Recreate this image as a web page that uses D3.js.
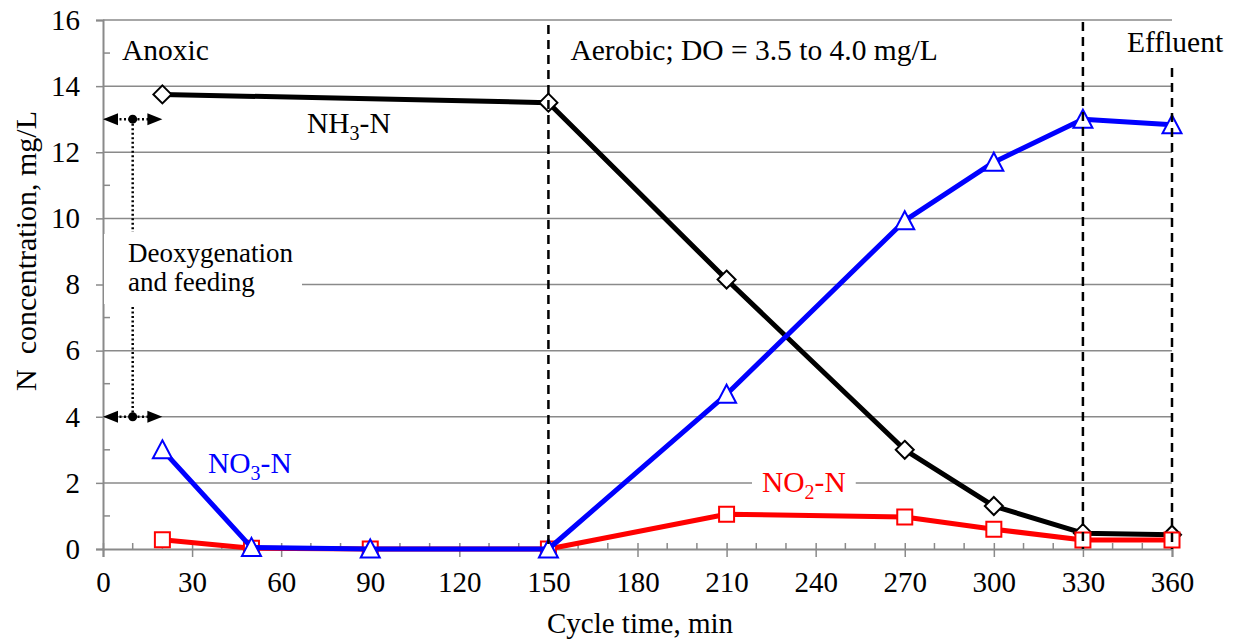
<!DOCTYPE html>
<html lang="en">
<head>
  <meta charset="utf-8">
  <title>N concentration vs cycle time</title>
  <script src="https://d3js.org/d3.v7.min.js"></script>
  <style>
    body { margin: 0; background: #fff; }
  </style>
</head>
<body>
  <div id="chart"></div>
  <script>

    // data
    var times = [20, 50, 90, 150, 210, 270, 300, 330, 360];
    var nh3Times = [20, 150, 210, 270, 300, 330, 360];
    var nh3 = [13.75, 13.5, 8.15, 3.0, 1.3, 0.48, 0.43];
    var no3 = [3.0, 0.05, 0.0, 0.0, 4.68, 9.93, 11.7, 13.0, 12.83];
    var no2 = [0.28, 0.02, 0.0, 0.0, 1.05, 0.97, 0.6, 0.27, 0.27];
    var xTicks = [0, 30, 60, 90, 120, 150, 180, 210, 240, 270, 300, 330, 360];
    var yTicks = [0, 2, 4, 6, 8, 10, 12, 14, 16];
    var phaseLines = [150, 330, 360];

    var W = 1234, H = 641;
    var margin = { top: 20, right: 62, bottom: 92, left: 103 };
    var w = W - margin.left - margin.right;
    var h = H - margin.top - margin.bottom;
    var grey = '#8a8a8a';
    var serif = "'Liberation Serif', 'Times New Roman', serif";

    var svg = d3.select('#chart').append('svg')
      .attr('width', W).attr('height', H);

    var x = d3.scaleLinear().domain([0, 360]).range([0, w]);
    var y = d3.scaleLinear().domain([0, 16]).range([h, 0]);

    var g = svg.append('g').attr('transform', 'translate(' + margin.left + ',' + margin.top + ')');

    // horizontal gridlines
    g.selectAll('.grid').data(yTicks.filter(function(d) { return d > 0; }))
      .enter().append('line')
      .attr('x1', 0).attr('x2', w)
      .attr('y1', function(d) { return y(d); })
      .attr('y2', function(d) { return y(d); })
      .attr('stroke', grey).attr('stroke-width', 1.5);

    // y axis
    var yAxis = d3.axisLeft(y).tickValues(yTicks).tickSize(7).tickPadding(16);
    var ya = g.append('g').call(yAxis);
    ya.select('.domain').attr('stroke', grey).attr('stroke-width', 2);
    ya.selectAll('.tick line').attr('stroke', grey).attr('stroke-width', 1.5);
    ya.selectAll('.tick text').attr('fill', '#000').style('font-size', '29px');

    g.selectAll('.yminor').data(d3.range(1, 16, 2))
      .enter().append('line')
      .attr('x1', 0).attr('x2', 7)
      .attr('y1', function(d) { return y(d); })
      .attr('y2', function(d) { return y(d); })
      .attr('stroke', grey).attr('stroke-width', 1.5);

    // x axis
    var xAxis = d3.axisBottom(x).tickValues(xTicks).tickSize(8).tickPadding(14);
    var xa = g.append('g').attr('transform', 'translate(0,' + h + ')').call(xAxis);
    xa.select('.domain').attr('stroke', grey).attr('stroke-width', 2);
    xa.selectAll('.tick line').attr('y1', -6).attr('stroke', grey).attr('stroke-width', 1.5);
    xa.selectAll('.tick text').attr('fill', '#000').style('font-size', '29px');

    g.selectAll('.xminor').data(d3.range(10, 360, 10).filter(function(d) { return d % 30 !== 0; }))
      .enter().append('line')
      .attr('x1', function(d) { return x(d); })
      .attr('x2', function(d) { return x(d); })
      .attr('y1', h - 6).attr('y2', h)
      .attr('stroke', grey).attr('stroke-width', 1.5);

    // axis titles
    svg.append('text')
      .attr('x', 640).attr('y', 633)
      .attr('text-anchor', 'middle')
      .style('font-size', '29px')
      .text('Cycle time, min');

    svg.append('text')
      .attr('transform', 'translate(36,251) rotate(-90)')
      .attr('text-anchor', 'middle')
      .style('font-size', '30px')
      .style('white-space', 'pre')
      .text('N  concentration, mg/L');

    // deoxygenation annotation
    var deoxLines = ['Deoxygenation', 'and feeding'];
    g.append('rect').attr('fill', '#fff')
      .attr('x', 1).attr('y', 214).attr('width', 198).attr('height', 70);
    var deoxText = g.append('text')
      .attr('x', 25).attr('y', 242).style('font-size', '27px');
    deoxText.selectAll('tspan').data(deoxLines).enter().append('tspan')
      .attr('x', 25)
      .attr('dy', function(d, i) { return i === 0 ? 0 : 29; })
      .text(function(d) { return d; });

    // dotted vertical line and double arrows
    var arrowY = [13, 4];
    g.append('line')
      .attr('x1', x(10)).attr('x2', x(10))
      .attr('y1', y(13)).attr('y2', 212)
      .attr('stroke', '#000').attr('stroke-width', 2.5).attr('stroke-dasharray', '2,2.5');
    g.append('line')
      .attr('x1', x(10)).attr('x2', x(10))
      .attr('y1', 287).attr('y2', y(4))
      .attr('stroke', '#000').attr('stroke-width', 2.5).attr('stroke-dasharray', '2,2.5');

    arrowY.forEach(function(v) {
      var yy = y(v);
      g.append('line')
        .attr('x1', x(0) + 12).attr('x2', x(20) - 12)
        .attr('y1', yy).attr('y2', yy)
        .attr('stroke', '#000').attr('stroke-width', 2.5).attr('stroke-dasharray', '2,2.5');
      g.append('path')
        .attr('d', 'M' + x(0) + ',' + yy + 'l15,-6v12z').attr('fill', '#000');
      g.append('path')
        .attr('d', 'M' + x(20) + ',' + yy + 'l-15,-6v12z').attr('fill', '#000');
      g.append('circle').attr('cx', x(10)).attr('cy', yy).attr('r', 4.5).attr('fill', '#000');
    });

    // series
    var line = d3.line()
      .x(function(d) { return x(d[0]); })
      .y(function(d) { return y(d[1]); });

    var nh3Data = d3.zip(nh3Times, nh3);
    var no2Data = d3.zip(times, no2);
    var no3Data = d3.zip(times, no3);

    function drawSeries(data, color, symbol, size) {
      g.append('path').datum(data)
        .attr('d', line)
        .attr('fill', 'none')
        .attr('stroke', color)
        .attr('stroke-width', 5)
        .attr('stroke-linejoin', 'round');
      g.selectAll(null).data(data).enter().append('path')
        .attr('transform', function(d) { return 'translate(' + x(d[0]) + ',' + y(d[1]) + ')'; })
        .attr('d', d3.symbol().type(symbol).size(size))
        .attr('fill', '#fff')
        .attr('stroke', color)
        .attr('stroke-width', 2);
    }

    var diamond = {
      draw: function(ctx, size) {
        var r = Math.sqrt(size) / 2;
        ctx.moveTo(0, -r); ctx.lineTo(r, 0); ctx.lineTo(0, r); ctx.lineTo(-r, 0); ctx.closePath();
      }
    };
    var triangle = {
      draw: function(ctx, size) {
        var r = Math.sqrt(size) / 2;
        ctx.moveTo(0, -r); ctx.lineTo(r, r * 0.9); ctx.lineTo(-r, r * 0.9); ctx.closePath();
      }
    };
    var square = {
      draw: function(ctx, size) {
        var r = Math.sqrt(size) / 2;
        ctx.rect(-r, -r, 2 * r, 2 * r);
      }
    };

    drawSeries(nh3Data, '#000', diamond, 18 * 18);
    drawSeries(no2Data, '#ff0000', square, 15 * 15);
    drawSeries(no3Data, '#0000ff', triangle, 19 * 19);

    // phase separators
    var lineTops = { 150: 5, 330: 2, 360: 48 };
    g.selectAll('.phase').data(phaseLines).enter().append('line')
      .attr('x1', function(d) { return x(d); })
      .attr('x2', function(d) { return x(d); })
      .attr('y1', function(d) { return lineTops[d]; })
      .attr('y2', h)
      .attr('stroke', '#000').attr('stroke-width', 2.5).attr('stroke-dasharray', '9,6');

    // phase labels
    var noteSize = '29.5px';
    g.append('text').attr('x', 19).attr('y', 40).style('font-size', noteSize).text('Anoxic');
    g.append('text').attr('x', x(150) + 22).attr('y', 40).style('font-size', noteSize).text('Aerobic; DO = 3.5 to 4.0 mg/L');
    g.append('text').attr('x', x(360) - 45).attr('y', 32).style('font-size', noteSize).text('Effluent');

    // series labels
    function seriesLabel(px, py, main, sub, rest, color, bg) {
      var grp = g.append('g');
      var rect = grp.append('rect').attr('fill', '#fff');
      var t = grp.append('text').attr('x', px).attr('y', py)
        .attr('fill', color).style('font-size', noteSize);
      t.append('tspan').text(main);
      t.append('tspan').attr('dy', 7).style('font-size', '20px').text(sub);
      t.append('tspan').attr('dy', -7).text(rest);
      if (bg) {
        var b = t.node().getBBox();
        rect.attr('x', b.x - 10).attr('y', b.y).attr('width', b.width + 20).attr('height', b.height);
      }
    }
    seriesLabel(204, 113, 'NH', '3', '-N', '#000', false);
    seriesLabel(105, 453, 'NO', '3', '-N', '#0000ff', false);
    seriesLabel(659, 472, 'NO', '2', '-N', '#ff0000', true);

    // serif type everywhere, like the original figure
    svg.selectAll('g').attr('font-family', null);
    svg.selectAll('text').style('font-family', serif);

  </script>
</body>
</html>
